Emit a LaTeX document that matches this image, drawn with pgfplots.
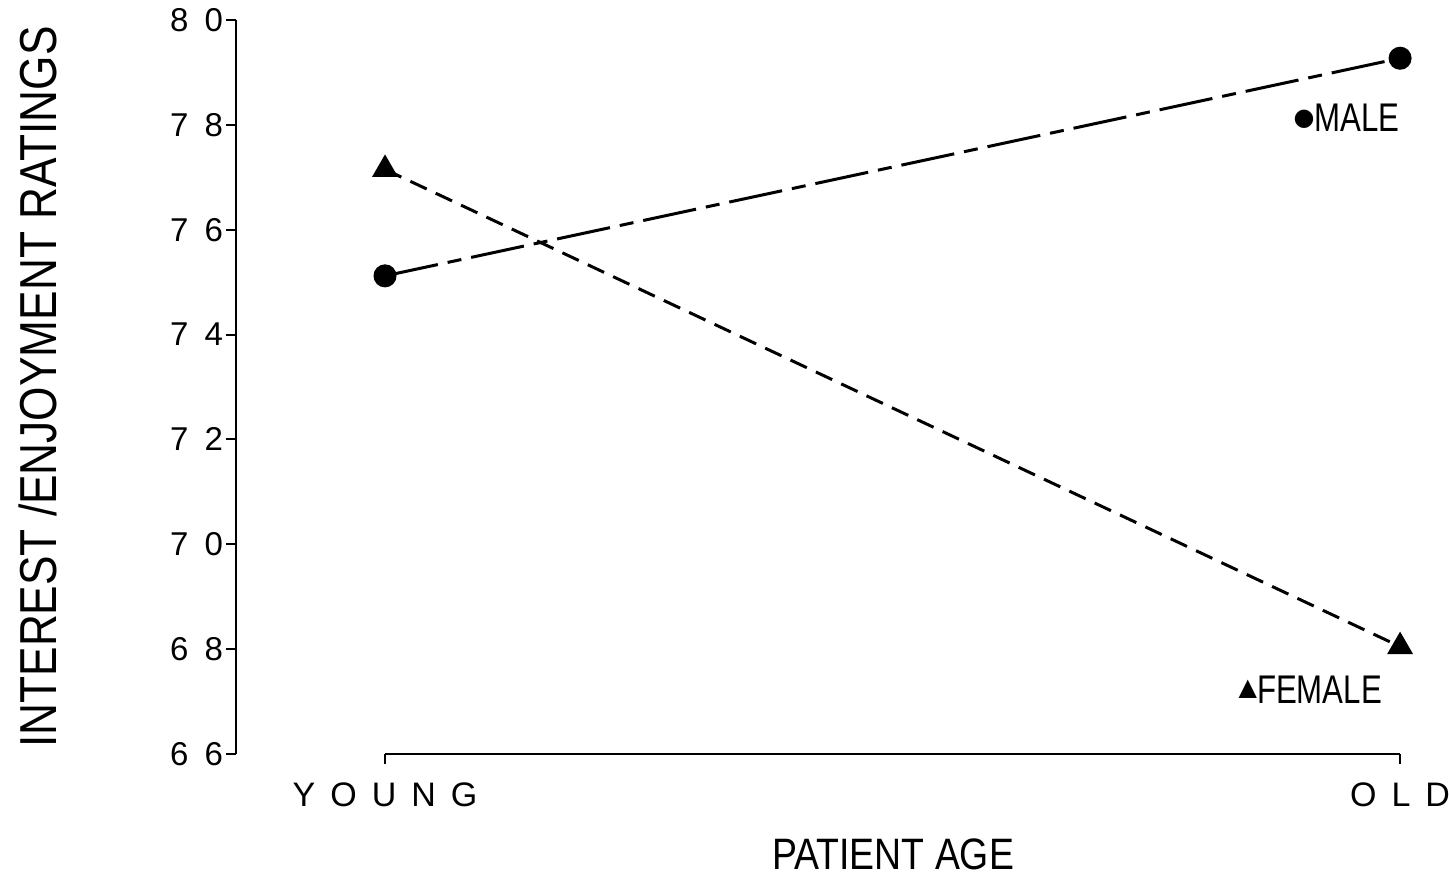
\documentclass[border=0pt]{standalone}
\usepackage{fontspec}
\setmainfont{Liberation Sans}[FakeStretch=0.85]
\newfontfamily\plainfont{Liberation Sans}
\newfontfamily\labelfont{Liberation Sans}[FakeStretch=0.78]
\newfontfamily\symfont{DejaVu Sans}
\usepackage{pgfplots}
\pgfplotsset{compat=1.18}
\newcommand{\lgap}{\hspace{7.5pt}}
\newcommand{\dgap}{\hspace{8pt}}
\begin{document}
\begin{tikzpicture}
\begin{axis}[
  scale only axis, width=587pt, height=367pt,
  xmin=-0.1468, xmax=1.01, ymin=66, ymax=80,
  axis lines*=left,
  x axis line style={draw=none},
  y axis line style={line width=1pt},
  tick align=outside,
  major tick length=5pt,
  every tick/.style={black, line width=1pt},
  xtick={0,1}, xticklabels={Y\lgap O\lgap U\lgap N\lgap G, O\lgap L\lgap D},
  ytick={66,68,70,72,74,76,78,80},
  yticklabels={6\dgap 6,6\dgap 8,7\dgap 0,7\dgap 2,7\dgap 4,7\dgap 6,7\dgap 8,8\dgap 0},
  xticklabel style={font=\plainfont\fontsize{17}{20}\selectfont, yshift=-6pt},
  yticklabel style={font=\plainfont\fontsize{16.5}{18}\selectfont, xshift=2pt},
  xlabel={PATIENT AGE},
  ylabel={INTEREST /ENJOYMENT RATINGS},
  every axis x label/.style={at={(axis description cs:0.5596,-0.137)}, anchor=center, font=\fontsize{22}{26}\selectfont},
  every axis y label/.style={at={(axis description cs:-0.1687,0.5)}, rotate=90, anchor=center, font=\fontsize{26}{30}\selectfont},
  clip=false,
]
\draw[line width=1pt] (axis cs:0,66) -- (axis cs:1,66);
\addplot[black, line width=1.5pt, dash pattern=on 27pt off 5pt on 7pt off 5pt, mark=*, mark size=5pt, mark options={solid}]
  coordinates {(0,75.12) (1,79.27)};
\addplot[black, line width=1.5pt, dash pattern=on 9pt off 5pt, mark=triangle*, mark size=6pt, mark options={solid}]
  coordinates {(0,77.15) (1,68.05)};
\node[anchor=west, inner sep=0pt] at (axis cs:0.8946,78.13) {\raisebox{3pt}{\symfont\fontsize{12}{14}\selectfont ●}\labelfont\fontsize{20}{24}\selectfont MALE};
\node[anchor=west, inner sep=0pt] at (axis cs:0.8405,67.22) {\raisebox{4pt}{\symfont\fontsize{12}{14}\selectfont ▲}\labelfont\fontsize{20}{24}\selectfont FEMALE};
\coordinate (bl) at (rel axis cs:-0.201,-0.1703);
\coordinate (tr) at (rel axis cs:1.033,1.0272);
\end{axis}
\pgfresetboundingbox
\path[use as bounding box] (bl) rectangle (tr);
\end{tikzpicture}
\end{document}
